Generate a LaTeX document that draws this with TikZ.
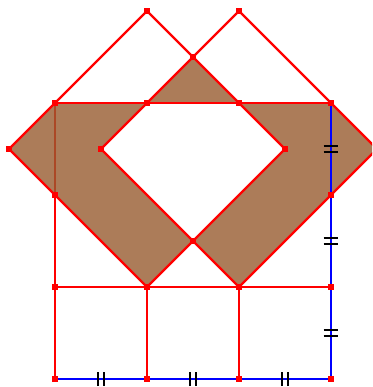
\documentclass[tikz,border=0pt]{standalone}
\begin{document}
\begin{tikzpicture}[x=1cm,y=1cm,
  redline/.style={draw=red,line width=0.7pt},
  blueline/.style={draw=blue,line width=0.8pt},
  tick/.style={draw=black,line width=0.7pt},
  brownfill/.style={fill={rgb,255:red,151;green,91;blue,48},fill opacity=0.8},
  dot/.style={rectangle,fill=red,inner sep=0pt,minimum size=1.8pt}]
\useasboundingbox (-0.598,-0.087) rectangle (3.446,4.120);
\clip (-0.598,-0.087) rectangle (3.446,4.120);
% coordinates
\coordinate (A) at (0,0); \coordinate (B) at (1,0); \coordinate (C) at (2,0); \coordinate (D) at (3,0);
\coordinate (E) at (0,1); \coordinate (F) at (1,1); \coordinate (G) at (2,1); \coordinate (H) at (3,1);
\coordinate (I) at (0,2); \coordinate (J) at (3,2);
\coordinate (K) at (0,3); \coordinate (L) at (1,3); \coordinate (M) at (2,3); \coordinate (N) at (3,3);
\coordinate (Lt) at (1,4); \coordinate (Rt) at (2,4); \coordinate (X) at (1.5,3.5);
\coordinate (Ll) at (-0.5,2.5); \coordinate (Rl) at (0.5,2.5);
\coordinate (Lr) at (2.5,2.5); \coordinate (Rr) at (3.5,2.5);
\coordinate (Y) at (1.5,1.5);
% lines under the fill
\draw[redline] (K) -- (A);
\draw[redline] (E) -- (H);
\draw[redline] (F) -- (B);
\draw[redline] (G) -- (C);
% brown regions
\path[brownfill] (Ll) -- (K) -- (L) -- (Rl) -- (Y) -- (F) -- cycle;
\path[brownfill] (M) -- (N) -- (Rr) -- (G) -- (Y) -- (Lr) -- cycle;
\path[brownfill] (X) -- (L) -- (M) -- cycle;
% outlines
\draw[redline] (K) -- (N);
\draw[redline] (Lt) -- (Ll) -- (F) -- (Lr) -- cycle;
\draw[redline] (Rt) -- (Rl) -- (G) -- (Rr) -- cycle;
\draw[redline] (N) -- (D) -- (A);
\draw[blueline] (N) -- (D) -- (A);
% ticks on right side
\foreach \yy in {0.5,1.5,2.5}{
  \draw[tick] (2.92,\yy+0.036) -- (3.08,\yy+0.036);
  \draw[tick] (2.92,\yy-0.036) -- (3.08,\yy-0.036);
}
% ticks on bottom
\foreach \xx in {0.5,1.5,2.5}{
  \draw[tick] (\xx-0.03,-0.078) -- (\xx-0.03,0.078);
  \draw[tick] (\xx+0.03,-0.078) -- (\xx+0.03,0.078);
}
% dots
\foreach \p in {A,B,C,D,E,F,G,H,I,J,K,L,M,N,Lt,Rt,X,Ll,Rl,Lr,Rr,Y}{
  \node[dot] at (\p) {};
}
\end{tikzpicture}
\end{document}
